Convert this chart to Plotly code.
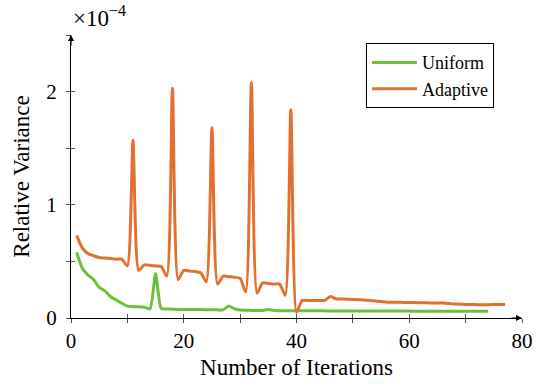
import plotly.graph_objects as go

iters_uniform = list(range(1, 75))
uniform = [0.58, 0.44, 0.38, 0.34, 0.27, 0.24, 0.19, 0.16, 0.13, 0.105,
           0.10, 0.10, 0.095, 0.08, 0.39, 0.085, 0.08, 0.078, 0.076, 0.075,
           0.075, 0.074, 0.074, 0.073, 0.073, 0.072, 0.072, 0.105, 0.08, 0.07,
           0.068, 0.067, 0.067, 0.066, 0.075, 0.066, 0.065, 0.065, 0.064, 0.064,
           0.063, 0.063, 0.063, 0.063, 0.063, 0.062, 0.062, 0.062, 0.062, 0.062,
           0.062, 0.062, 0.061, 0.061, 0.061, 0.061, 0.061, 0.061, 0.061, 0.061,
           0.06, 0.06, 0.06, 0.06, 0.06, 0.06, 0.06, 0.06, 0.06, 0.06,
           0.06, 0.06, 0.06, 0.06]

iters_adaptive = list(range(1, 78))
adaptive = [0.73, 0.62, 0.57, 0.55, 0.535, 0.53, 0.525, 0.52, 0.52, 0.46,
            1.57, 0.42, 0.47, 0.465, 0.46, 0.455, 0.37, 2.03, 0.34, 0.42,
            0.415, 0.41, 0.40, 0.32, 1.68, 0.30, 0.37, 0.365, 0.36, 0.35,
            0.23, 2.08, 0.22, 0.31, 0.305, 0.30, 0.30, 0.20, 1.84, 0.05,
            0.155, 0.155, 0.155, 0.155, 0.155, 0.19, 0.17, 0.168, 0.166, 0.164,
            0.162, 0.16, 0.155, 0.15, 0.145, 0.14, 0.14, 0.139, 0.138, 0.137,
            0.136, 0.135, 0.134, 0.133, 0.133, 0.132, 0.128, 0.124, 0.122, 0.12,
            0.119, 0.118, 0.117, 0.118, 0.119, 0.12, 0.12]

x_ticks = [0, 20, 40, 60, 80]
y_ticks = [0, 1, 2]

GREEN = "#6bbf3b"
ORANGE = "#e2702f"
FONT = "'Liberation Serif', 'Times New Roman', serif"

fig = go.Figure()
fig.add_trace(go.Scatter(x=iters_uniform, y=uniform, mode="lines", name="Uniform",
                         line=dict(color=GREEN, width=3, shape="spline", smoothing=0.6)))
fig.add_trace(go.Scatter(x=iters_adaptive, y=adaptive, mode="lines", name="Adaptive",
                         line=dict(color=ORANGE, width=3, shape="spline", smoothing=0.6)))

# invisible trace on overlay axes to enable crossing ticks
fig.add_trace(go.Scatter(x=[0], y=[0], mode="markers", marker=dict(opacity=0),
                         showlegend=False, hoverinfo="skip", xaxis="x2", yaxis="y2"))

axis_common = dict(showgrid=False, zeroline=False, linecolor="black", linewidth=1,
                   tickcolor="#555", ticklen=4, tickwidth=1,
                   tickfont=dict(family=FONT, size=21, color="black"))

fig.update_layout(
    width=552, height=387,
    margin=dict(l=71, r=30, t=34.5, b=65),
    paper_bgcolor="white", plot_bgcolor="white",
    font=dict(family=FONT, color="black"),
    xaxis=dict(range=[0, 80], tickvals=list(range(0, 81, 10)),
               ticktext=[str(v) if v in x_ticks else "" for v in range(0, 81, 10)],
               ticks="outside", showline=True,
               title=dict(text="Number of Iterations", font=dict(family=FONT, size=23), standoff=6),
               **axis_common),
    yaxis=dict(range=[0, 2.5], tickvals=[0, 0.5, 1, 1.5, 2, 2.5],
               ticktext=["0", "", "1", "", "2", ""],
               ticks="outside", showline=True, ticklabelstandoff=5,
               title=dict(text="Relative Variance", font=dict(family=FONT, size=23), standoff=10),
               **axis_common),
    xaxis2=dict(range=[0, 80], overlaying="x", tickvals=list(range(0, 81, 10)),
                showticklabels=False, ticks="inside", showline=False, showgrid=False,
                zeroline=False, tickcolor="#555", ticklen=4, tickwidth=1),
    yaxis2=dict(range=[0, 2.5], overlaying="y", tickvals=[0, 0.5, 1, 1.5, 2, 2.5],
                showticklabels=False, ticks="inside", showline=False, showgrid=False,
                zeroline=False, tickcolor="#555", ticklen=4, tickwidth=1),
    legend=dict(x=0.654, y=0.971, xanchor="left", yanchor="top",
                bordercolor="black", borderwidth=1, bgcolor="white",
                font=dict(family=FONT, size=18), tracegroupgap=0, itemwidth=45),
    showlegend=True,
)

# axis arrows
fig.add_annotation(x=80, y=0, xref="x", yref="y", ax=-12, ay=0, text="",
                   showarrow=True, arrowhead=2, arrowsize=1, arrowwidth=1.2, arrowcolor="black")
fig.add_annotation(x=0, y=2.5, xref="x", yref="y", ax=0, ay=12, text="",
                   showarrow=True, arrowhead=2, arrowsize=1, arrowwidth=1.2, arrowcolor="black")

# scale factor label
fig.add_annotation(x=0, y=1.0, xref="x", yref="paper", xanchor="left", yanchor="bottom",
                   yshift=2, text="×10<sup>−4</sup>", showarrow=False,
                   font=dict(family=FONT, size=23, color="black"))

fig.write_html("out.html")
